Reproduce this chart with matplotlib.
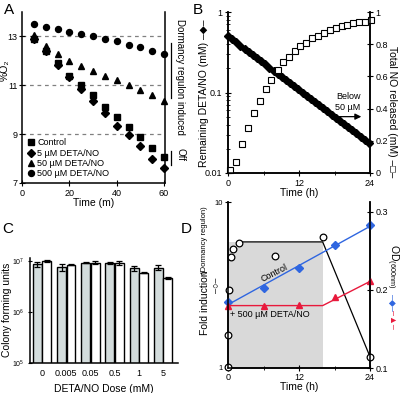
import numpy as np
import matplotlib.pyplot as plt

plt.rcParams['font.family'] = ['Liberation Sans', 'DejaVu Sans']
plt.rcParams['mathtext.fontset'] = 'custom'
plt.rcParams['mathtext.rm'] = 'Liberation Sans'
plt.rcParams['mathtext.it'] = 'Liberation Sans:italic'
plt.rcParams['axes.linewidth'] = 1.1
plt.rcParams['xtick.labelsize'] = 6.5
plt.rcParams['ytick.labelsize'] = 6.5

# --- Panel A: oxygen depletion ---
time_m = [5, 10, 15, 20, 25, 30, 35, 40, 45, 50, 55, 60]
o2_control = [12.9, 12.4, 11.9, 11.4, 11.0, 10.6, 10.1, 9.7, 9.3, 8.9, 8.45, 8.05]
o2_5um = [12.9, 12.4, 11.85, 11.35, 10.85, 10.35, 9.85, 9.35, 8.95, 8.5, 8.0, 7.6]
o2_50um = [13.05, 12.6, 12.3, 12.0, 11.8, 11.6, 11.4, 11.2, 11.0, 10.8, 10.6, 10.35]
o2_500um = [13.5, 13.4, 13.3, 13.2, 13.1, 13.0, 12.9, 12.8, 12.65, 12.55, 12.4, 12.3]
legend_labels = ['Control', '5 \u00b5M DETA/NO', '50 \u00b5M DETA/NO', '500 \u00b5M DETA/NO']

# --- Panel B: DETA/NO decay and NO release ---
deta_t = [0.0, 0.7, 1.4, 2.1, 2.8, 3.5, 4.2, 4.9, 5.6, 6.3, 7.0, 7.7, 8.4, 9.1,
          9.8, 10.5, 11.2, 11.9, 12.6, 13.3, 14.0, 14.7, 15.4, 16.1, 16.8, 17.5,
          18.2, 18.9, 19.6, 20.3, 21.0, 21.7, 22.4, 23.1, 23.8]
deta_left = [0.500, 0.457, 0.418, 0.382, 0.349, 0.319, 0.292, 0.267, 0.244, 0.223,
             0.204, 0.187, 0.171, 0.156, 0.143, 0.130, 0.119, 0.109, 0.0996, 0.0910,
             0.0832, 0.0761, 0.0696, 0.0636, 0.0581, 0.0531, 0.0486, 0.0444, 0.0406,
             0.0371, 0.0339, 0.0310, 0.0284, 0.0259, 0.0237]
no_t = [0.4, 1.4, 2.4, 3.4, 4.4, 5.4, 6.4, 7.3, 8.4, 9.3, 10.3, 11.3, 12.2, 13.2,
        14.2, 15.2, 16.2, 17.2, 18.2, 19.2, 20.1, 21.1, 22.1, 23.1, 24.1]
no_released = [0.02, 0.066, 0.18, 0.28, 0.375, 0.45, 0.52, 0.58, 0.64, 0.69, 0.72,
               0.76, 0.79, 0.81, 0.84, 0.85, 0.87, 0.89, 0.90, 0.91, 0.92, 0.93,
               0.935, 0.94, 0.95]

# --- Panel C: viability ---
doses = ['0', '0.005', '0.05', '0.5', '1', '5']
cfu_gray = [8.7e6, 7.6e6, 9.3e6, 9.0e6, 7.2e6, 7.4e6]
cfu_gray_err = [1.0e6, 1.2e6, 0.3e6, 0.4e6, 0.8e6, 0.8e6]
cfu_white = [1.0e7, 8.4e6, 9.3e6, 9.2e6, 5.9e6, 4.7e6]
cfu_white_err = [0.5e6, 0.2e6, 0.7e6, 0.9e6, 0.15e6, 0.15e6]

# --- Panel D: induction and growth ---
fold_t = [0, 0, 0.2, 0.45, 0.85, 1.9, 7.9, 16, 24]
fold_val = [1.01, 1.58, 2.95, 4.67, 5.2, 5.68, 4.72, 6.17, 1.17]
fold_line_t = [1.9, 16, 24]
fold_line_v = [5.75, 5.75, 1.17]
od_t = [0, 6, 12, 18, 24]
od_control = [0.185, 0.203, 0.228, 0.258, 0.283]
od_deta = [0.180, 0.179, 0.181, 0.191, 0.211]
red_line_t = [0, 16, 24]
red_line_v = [0.18, 0.18, 0.211]
shade_end = 16

BLUE = '#2f66e0'
RED = '#e8193c'

fig = plt.figure(figsize=(4, 3.93), dpi=100)


def px_axes(l, r, t, b):
    return fig.add_axes([l / 400, 1 - b / 393, (r - l) / 400, (b - t) / 393])


# ===== A =====
axA = px_axes(22, 165, 12, 183)
for yv in [9, 11, 13]:
    axA.axhline(yv, color='gray', ls=(0, (3, 3)), lw=0.9, zorder=0)
mk = dict(color='black', ls='none', ms=4.3, clip_on=False)
axA.plot(time_m, o2_control, marker='s', label=legend_labels[0], **mk)
axA.plot(time_m, o2_5um, marker='D', label=legend_labels[1], **dict(mk, ms=3.8))
axA.plot(time_m, o2_50um, marker='^', label=legend_labels[2], **dict(mk, ms=4.8))
axA.plot(time_m, o2_500um, marker='o', label=legend_labels[3], **mk)
axA.set_xlim(0, 60.4)
axA.set_ylim(7, 14)
axA.set_xticks([0, 20, 40, 60])
axA.set_yticks([7, 9, 11, 13])
axA.spines['top'].set_visible(False)
axA.tick_params(axis='both', direction='inout', length=4, pad=2)
axA.tick_params(axis='y', pad=1.2)
axA.set_xlabel('Time (m)', fontsize=7.5, labelpad=0)
axA.legend(loc='lower left', frameon=False, fontsize=6.5, handletextpad=0.2,
           labelspacing=0.15, borderaxespad=0.3, handlelength=1.0, borderpad=0.2)
axA.plot([63, 63], [12.75, 10.5], color='black', lw=0.9, clip_on=False)
axA.plot([63, 63], [8.3, 7.75], color='black', lw=0.9, clip_on=False)
fig.text(180 / 400, 1 - 77 / 393, 'Dormancy regulon induced', rotation=270,
         ha='center', va='center', fontsize=7)
fig.text(180 / 400, 1 - 155 / 393, 'Off', rotation=270,
         ha='center', va='center', fontsize=7)
fig.text(5 / 400, 1 - 70 / 393, '%O\u2082', rotation=90,
         ha='center', va='center', fontsize=7.5)

# ===== B =====
axB = px_axes(228, 370, 12, 173)
axB.plot(deta_t, deta_left, marker='D', color='black', ls='none', ms=3.6, clip_on=False)
axB.set_yscale('log')
axB.set_ylim(0.01, 1)
axB.set_xlim(0, 24)
axB.set_yticks([0.01, 0.1, 1])
axB.set_yticklabels(['0.01', '0.1', '1'])
axB.set_xticks([0, 12, 24])
axB.set_xticks([6, 18], minor=True)
axB.spines['top'].set_visible(False)
axB.tick_params(axis='both', which='major', direction='inout', length=4, pad=2)
axB.tick_params(axis='both', which='minor', direction='inout', length=2.5, labelleft=False)
axB.set_xlabel('Time (h)', fontsize=7.5, labelpad=0)
axB2 = axB.twinx()
axB2.plot(no_t, no_released, marker='s', mfc='white', mec='black', mew=0.8,
          ls='none', ms=4.3, clip_on=False)
axB2.set_ylim(0, 1)
axB2.set_yticks([0, 0.2, 0.4, 0.6, 0.8, 1])
axB2.set_yticklabels(['0', '0.2', '0.4', '0.6', '0.8', '1'])
axB2.spines['top'].set_visible(False)
axB2.tick_params(axis='y', direction='inout', length=4, pad=2)
axB2.annotate('', xy=(23.0, 0.35), xytext=(18.0, 0.35),
              arrowprops=dict(arrowstyle='-|>', color='black', lw=0.9,
                              mutation_scale=9))
axB2.text(20.3, 0.44, 'Below\n50 \u00b5M', ha='center', va='center', fontsize=6.5,
          linespacing=1.3)
fig.text(204 / 400, 1 - 93 / 393, 'Remaining DETA/NO (mM) \u2013\u25c6\u2013',
         rotation=90, ha='center', va='center', fontsize=7.5)
fig.text(392 / 400, 1 - 112 / 393, 'Total NO released (mM) \u2013\u25a1\u2013',
         rotation=270, ha='center', va='center', fontsize=7.5)

# ===== C =====
axC = px_axes(30, 178, 258, 363)
x = np.arange(len(doses))
w = 0.37
axC.bar(x - 0.195, cfu_gray, width=w, color='#d3dcdc', edgecolor='black', lw=1.0,
        yerr=cfu_gray_err, capsize=2, error_kw=dict(lw=0.9, capthick=0.9))
axC.bar(x + 0.195, cfu_white, width=w, color='white', edgecolor='black', lw=1.0,
        yerr=cfu_white_err, capsize=2, error_kw=dict(lw=0.9, capthick=0.9))
axC.set_yscale('log')
axC.set_ylim(1e5, 1.15e7)
axC.set_xlim(-0.5, 5.62)
axC.set_xticks(x)
axC.set_xticklabels(doses)
axC.set_yticks([1e5, 1e6, 1e7])
axC.minorticks_off()
axC.tick_params(axis='y', labelsize=5)
axC.tick_params(axis='both', direction='inout', length=3.5, pad=2)
axC.tick_params(axis='x', length=0, pad=4)
axC.spines['top'].set_visible(False)
axC.spines['right'].set_visible(False)
axC.set_xlabel('DETA/NO Dose (mM)', fontsize=7.5, labelpad=5)
fig.text(7 / 400, 1 - 310 / 393, 'Colony forming units', rotation=90,
         ha='center', va='center', fontsize=7.5)

# ===== D =====
axD = px_axes(228, 370, 202, 368)
axD.set_yscale('log')
axD.set_ylim(1, 10)
axD.set_xlim(0, 24)
axD.fill_between([0, shade_end], 1, fold_line_v[0], color='#d9d9d9', lw=0, zorder=0)
axD.plot(fold_line_t, fold_line_v, color='black', lw=0.9, zorder=1)
axD.plot(fold_t, fold_val, marker='o', mfc='white', mec='black', mew=0.9, ms=4.8,
         ls='none', clip_on=False, zorder=3)
axD.set_yticks([1, 10])
axD.set_yticklabels(['1', '10'])
axD.minorticks_off()
axD.set_xticks([0, 12, 24])
axD.set_xticks([6, 18], minor=True)
axD.spines['top'].set_visible(False)
axD.tick_params(axis='y', labelsize=5.5)
axD.tick_params(axis='both', which='major', direction='inout', length=4, pad=1.5)
axD.tick_params(axis='x', which='minor', direction='inout', length=2.5)
axD.set_xlabel('Time (h)', fontsize=7.5, labelpad=0)
axD2 = axD.twinx()
fit = np.polyfit(od_t, od_control, 1)
axD2.plot([0, 24], np.polyval(fit, [0, 24]), color=BLUE, lw=1.0)
axD2.plot(od_t, od_control, marker='D', color=BLUE, ls='none', ms=4, clip_on=False)
axD2.plot(red_line_t, red_line_v, color=RED, lw=1.0)
axD2.plot(od_t, od_deta, marker='^', color=RED, ls='none', ms=5, clip_on=False)
axD2.set_ylim(0.1, 0.3128)
axD2.set_yticks([0.1, 0.2, 0.3])
axD2.set_yticklabels(['0.1', '0.2', '0.3'])
axD2.spines['top'].set_visible(False)
axD2.tick_params(axis='y', direction='inout', length=4, pad=2)
axD2.text(7.8, 0.222, 'Control', rotation=27, ha='center', va='center', fontsize=6.5)
axD2.text(7.1, 0.168, '+ 500 \u00b5M DETA/NO', ha='center', va='center', fontsize=6.5)
fig.text(205 / 400, 1 - 303 / 393, 'Fold induction', rotation=90,
         ha='center', va='center', fontsize=7.5)
fig.text(205 / 400, 1 - 240 / 393, '(Dormancy regulon)', rotation=90,
         ha='center', va='center', fontsize=5.5)
fig.text(217 / 400, 1 - 285 / 393, '\u2013\u25cb\u2013', rotation=90,
         ha='center', va='center', fontsize=6.5)
fig.text(392 / 400, 1 - 266 / 393, 'OD$\\mathregular{_{(600nm)}}$', rotation=270,
         ha='center', va='center', fontsize=7.5)
fig.text(392 / 400, 1 - 302 / 393, '\u2013\u25c6\u2013', rotation=270, color=BLUE,
         ha='center', va='center', fontsize=6.5)
fig.text(392 / 400, 1 - 319 / 393, '\u2013\u25b2\u2013', rotation=270, color=RED,
         ha='center', va='center', fontsize=6.5)

# panel letters
fig.text(9 / 400, 1 - 10 / 393, 'A', ha='center', va='center', fontsize=11)
fig.text(198 / 400, 1 - 10 / 393, 'B', ha='center', va='center', fontsize=11)
fig.text(8 / 400, 1 - 229 / 393, 'C', ha='center', va='center', fontsize=11)
fig.text(186 / 400, 1 - 229 / 393, 'D', ha='center', va='center', fontsize=11)

fig.savefig('out.png', dpi=100)
